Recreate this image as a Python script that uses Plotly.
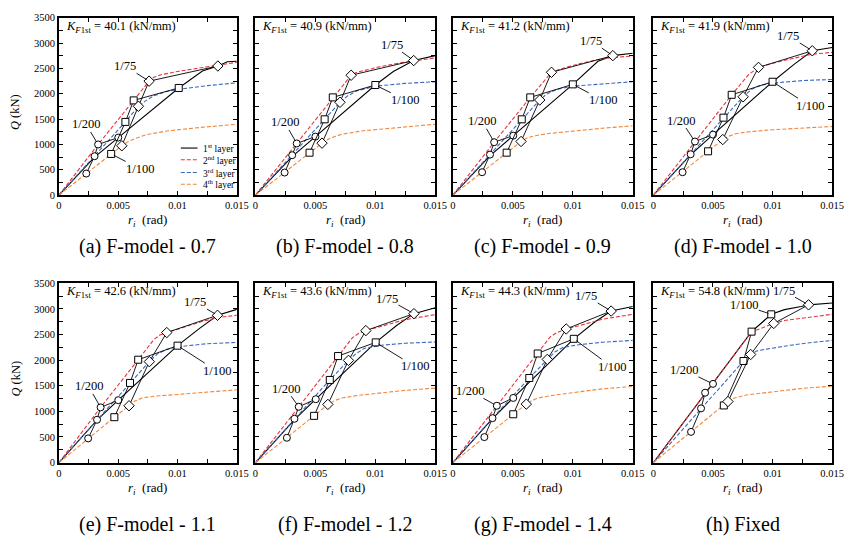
import plotly.graph_objects as go

# ---------------------------------------------------------------------------
# Story shear Q (kN) vs. inter-story drift r_i (rad), four layers per model.
# Each curve is a list of (r_i, Q) points.  Marker groups list the state of
# layers 1..4 at the instants the 1st layer reaches 1/200, 1/100 and 1/75.
# ---------------------------------------------------------------------------
CAPTIONS = ["(a) F-model - 0.7", "(b) F-model - 0.8", "(c) F-model - 0.9",
            "(d) F-model - 1.0", "(e) F-model - 1.1", "(f) F-model - 1.2",
            "(g) F-model - 1.4", "(h) Fixed"]
K_F1ST = [40.1, 40.9, 41.2, 41.9, 42.6, 43.6, 44.3, 54.8]
LAYER_NAMES = ["1<sup>st</sup> layer", "2<sup>nd</sup> layer",
               "3<sup>rd</sup> layer", "4<sup>th</sup> layer"]
X_TICKS = [0, 0.005, 0.01, 0.015]
X_TICK_TEXT = ["0", "0.005", "0.01", "0.015"]
Y_TICKS = [0, 500, 1000, 1500, 2000, 2500, 3000, 3500]

# (a) F-model - 0.7
A_L1 = [(0, 0), (0.0030, 750), (0.0050, 1135), (0.0101, 2114), (0.0121, 2450),
        (0.0134, 2547), (0.0142, 2630), (0.0150, 2640)]
A_L2 = [(0, 0), (0.0033, 999), (0.0063, 1869), (0.0076, 2249), (0.0080, 2325),
        (0.0086, 2375), (0.0100, 2440), (0.0125, 2525), (0.0150, 2620)]
A_L3 = [(0, 0), (0.0030, 767), (0.0056, 1444), (0.0067, 1753), (0.0073, 1860),
        (0.0080, 1960), (0.0090, 2040), (0.0100, 2085), (0.0125, 2160), (0.0150, 2215)]
A_L4 = [(0, 0), (0.0023, 425), (0.0044, 812), (0.0053, 973), (0.0058, 1050),
        (0.0064, 1115), (0.0074, 1195), (0.0091, 1265), (0.0119, 1334), (0.0150, 1398)]
A_CIR = [(0.0050, 1135), (0.0033, 999), (0.0030, 767), (0.0023, 425)]
A_SQR = [(0.0101, 2114), (0.0063, 1869), (0.0056, 1444), (0.0044, 812)]
A_DIA = [(0.0134, 2547), (0.0076, 2249), (0.0067, 1753), (0.0053, 973)]

# (b) F-model - 0.8
B_L1 = [(0, 0), (0.0031, 770), (0.0050, 1154), (0.0100, 2172), (0.0115, 2440),
        (0.0132, 2655), (0.0150, 2752)]
B_L2 = [(0, 0), (0.00344, 1019), (0.00645, 1928), (0.00798, 2365), (0.0084, 2420),
        (0.0092, 2470), (0.0105, 2540), (0.0125, 2625), (0.0150, 2707)]
B_L3 = [(0, 0), (0.00306, 787), (0.00577, 1495), (0.00705, 1831), (0.0077, 1960),
        (0.0085, 2060), (0.0100, 2150), (0.0125, 2205), (0.0150, 2237)]
B_L4 = [(0, 0), (0.00243, 445), (0.00451, 837), (0.00555, 1025), (0.0062, 1120),
        (0.0072, 1200), (0.0090, 1270), (0.0120, 1340), (0.0150, 1398)]
B_CIR = [(0.0050, 1154), (0.00344, 1019), (0.00306, 787), (0.00243, 445)]
B_SQR = [(0.0100, 2172), (0.00645, 1928), (0.00577, 1495), (0.00451, 837)]
B_DIA = [(0.0132, 2655), (0.00798, 2365), (0.00705, 1831), (0.00555, 1025)]

# (c) F-model - 0.9
C_L1 = [(0, 0), (0.0031, 780), (0.00503, 1173), (0.0100, 2185), (0.0121, 2640),
        (0.01334, 2752), (0.0150, 2798)]
C_L2 = [(0, 0), (0.00344, 1044), (0.00645, 1928), (0.00822, 2423), (0.0090, 2490),
        (0.0105, 2590), (0.0120, 2670), (0.0133, 2715), (0.0150, 2745)]
C_L3 = [(0, 0), (0.00309, 799), (0.00574, 1495), (0.00724, 1876), (0.0078, 1990),
        (0.0086, 2080), (0.0100, 2150), (0.0125, 2200), (0.0150, 2237)]
C_L4 = [(0, 0), (0.00243, 451), (0.00448, 837), (0.00568, 1058), (0.0062, 1130),
        (0.0068, 1170), (0.0080, 1215), (0.0100, 1265), (0.0125, 1320), (0.0150, 1367)]
C_CIR = [(0.00503, 1173), (0.00344, 1044), (0.00309, 799), (0.00243, 451)]
C_SQR = [(0.0100, 2185), (0.00645, 1928), (0.00574, 1495), (0.00448, 837)]
C_DIA = [(0.01334, 2752), (0.00822, 2423), (0.00724, 1876), (0.00568, 1058)]

# (d) F-model - 1.0
D_L1 = [(0, 0), (0.0031, 790), (0.0050, 1193), (0.0100, 2237), (0.0118, 2580),
        (0.01333, 2848), (0.0150, 2913)]
D_L2 = [(0, 0), (0.00349, 1057), (0.00657, 1979), (0.0080, 2380), (0.0085, 2475),
        (0.00882, 2520), (0.0095, 2570), (0.0110, 2660), (0.0133, 2780), (0.0150, 2817)]
D_L3 = [(0, 0), (0.00313, 806), (0.00588, 1528), (0.00753, 1940), (0.0082, 2080),
        (0.0090, 2170), (0.0100, 2210), (0.0125, 2260), (0.0150, 2282)]
D_L4 = [(0, 0), (0.00245, 451), (0.00459, 864), (0.00582, 1096), (0.0063, 1160),
        (0.0069, 1210), (0.0080, 1250), (0.0100, 1290), (0.0125, 1325), (0.0150, 1354)]
D_CIR = [(0.0050, 1193), (0.00349, 1057), (0.00313, 806), (0.00245, 451)]
D_SQR = [(0.0100, 2237), (0.00657, 1979), (0.00588, 1528), (0.00459, 864)]
D_DIA = [(0.01333, 2848), (0.00882, 2520), (0.00753, 1940), (0.00582, 1096)]

# (e) F-model - 1.1
E_L1 = [(0, 0), (0.0032, 830), (0.0050, 1218), (0.0100, 2282), (0.0118, 2610),
        (0.01337, 2875), (0.0150, 2990)]
E_L2 = [(0, 0), (0.00351, 1077), (0.00668, 2008), (0.0080, 2400), (0.0085, 2490),
        (0.00909, 2538), (0.0105, 2640), (0.0120, 2750), (0.0134, 2830), (0.0150, 2875)]
E_L3 = [(0, 0), (0.00321, 836), (0.00599, 1555), (0.00762, 1970), (0.0083, 2120),
        (0.0091, 2210), (0.0100, 2260), (0.0125, 2320), (0.0150, 2346)]
E_L4 = [(0, 0), (0.00246, 472), (0.00467, 886), (0.00591, 1109), (0.0064, 1200),
        (0.0070, 1260), (0.0080, 1295), (0.0100, 1330), (0.0125, 1380), (0.0150, 1421)]
E_CIR = [(0.0050, 1218), (0.00351, 1077), (0.00321, 836), (0.00246, 472)]
E_SQR = [(0.0100, 2282), (0.00668, 2008), (0.00599, 1555), (0.00467, 886)]
E_DIA = [(0.01337, 2875), (0.00909, 2538), (0.00762, 1970), (0.00591, 1109)]

# (f) F-model - 1.2
F_L1 = [(0, 0), (0.0033, 850), (0.00503, 1237), (0.01003, 2346), (0.0118, 2680),
        (0.01322, 2907), (0.0150, 3022)]
F_L2 = [(0, 0), (0.00361, 1090), (0.00689, 2079), (0.0081, 2440), (0.0086, 2520),
        (0.00921, 2576), (0.0105, 2660), (0.0125, 2790), (0.0150, 2888)]
F_L3 = [(0, 0), (0.00325, 855), (0.0062, 1613), (0.00776, 1995), (0.0084, 2130),
        (0.0091, 2230), (0.0105, 2290), (0.0125, 2330), (0.0150, 2353)]
F_L4 = [(0, 0), (0.00262, 484), (0.00489, 912), (0.00604, 1135), (0.0066, 1210),
        (0.0072, 1260), (0.0085, 1310), (0.0105, 1360), (0.0125, 1410), (0.0150, 1454)]
F_CIR = [(0.00503, 1237), (0.00361, 1090), (0.00325, 855), (0.00262, 484)]
F_SQR = [(0.01003, 2346), (0.00689, 2079), (0.0062, 1613), (0.00489, 912)]
F_DIA = [(0.01322, 2907), (0.00921, 2576), (0.00776, 1995), (0.00604, 1135)]

# (g) F-model - 1.4
G_L1 = [(0, 0), (0.0033, 860), (0.00503, 1262), (0.01008, 2416), (0.0118, 2740),
        (0.0132, 2958), (0.0150, 3047)]
G_L2 = [(0, 0), (0.00366, 1109), (0.00707, 2129), (0.0081, 2450), (0.0086, 2530),
        (0.00945, 2608), (0.0105, 2670), (0.0125, 2800), (0.0150, 2894)]
G_L3 = [(0, 0), (0.0033, 867), (0.00637, 1651), (0.00787, 2014), (0.0085, 2160),
        (0.0092, 2250), (0.0105, 2300), (0.0125, 2350), (0.0150, 2385)]
G_L4 = [(0, 0), (0.00262, 497), (0.00503, 943), (0.00612, 1141), (0.0066, 1215),
        (0.0072, 1265), (0.0085, 1320), (0.0105, 1380), (0.0125, 1440), (0.0150, 1486)]
G_CIR = [(0.00503, 1262), (0.00366, 1109), (0.0033, 867), (0.00262, 497)]
G_SQR = [(0.01008, 2416), (0.00707, 2129), (0.00637, 1651), (0.00503, 943)]
G_DIA = [(0.0132, 2958), (0.00945, 2608), (0.00787, 2014), (0.00612, 1141)]

# (h) Fixed base
H_L1 = [(0, 0), (0.00824, 2556), (0.00989, 2894), (0.0110, 2985), (0.0124, 3045),
        (0.01302, 3079), (0.0150, 3115)]
H_L2 = [(0, 0), (0.00824, 2556), (0.0091, 2625), (0.0101, 2716), (0.0110, 2773),
        (0.0124, 2815), (0.0150, 2894)]
H_L3 = [(0, 0), (0.0040, 1058), (0.00756, 1983), (0.00816, 2110), (0.0087, 2180),
        (0.0095, 2215), (0.0115, 2290), (0.0135, 2350), (0.0150, 2383)]
H_L4 = [(0, 0), (0.00316, 599), (0.00591, 1115), (0.00626, 1192), (0.0068, 1260),
        (0.0078, 1320), (0.0100, 1380), (0.0125, 1448), (0.0150, 1492)]
H_CIR = [(0.0050, 1536), (0.00434, 1364), (0.0040, 1058), (0.00316, 599)]
H_SQR = [(0.00989, 2894), (0.00824, 2556), (0.00756, 1983), (0.00591, 1115)]
H_DIA = [(0.01302, 3079), (0.0101, 2716), (0.00816, 2110), (0.00626, 1192)]

PANELS = [
    (A_L1, A_L2, A_L3, A_L4, A_CIR, A_SQR, A_DIA),
    (B_L1, B_L2, B_L3, B_L4, B_CIR, B_SQR, B_DIA),
    (C_L1, C_L2, C_L3, C_L4, C_CIR, C_SQR, C_DIA),
    (D_L1, D_L2, D_L3, D_L4, D_CIR, D_SQR, D_DIA),
    (E_L1, E_L2, E_L3, E_L4, E_CIR, E_SQR, E_DIA),
    (F_L1, F_L2, F_L3, F_L4, F_CIR, F_SQR, F_DIA),
    (G_L1, G_L2, G_L3, G_L4, G_CIR, G_SQR, G_DIA),
    (H_L1, H_L2, H_L3, H_L4, H_CIR, H_SQR, H_DIA),
]

# ---------------------------------------------------------------------------
# Layout / styling
# ---------------------------------------------------------------------------
W, H = 854, 545
FONT = "Liberation Serif"
COL_PX = [(57, 238), (257, 440), (458, 641), (662, 844)]
ROW_PX = [(13, 194), (284, 467)]
LAYER_STYLE = [("black", "solid", 1.1), ("#e8333a", "4px,2px", 1.1),
               ("#3a68c0", "4px,2px", 1.1), ("#f1873a", "4px,2px", 1.1)]
GROUP_SYMBOLS = ["circle", "square", "diamond"]
GROUP_SIZES = [7, 7, 8]
GROUP_LABELS = ["1/200", "1/100", "1/75"]
# which layer marker each drift label points at, and text offset in px
LABEL_POS = [
    [(1, -12, -20), (3, 29, 15), (1, -24, -15)],
    [(1, -12, -21), (0, 30, 15), (0, -22, -16)],
    [(1, -12, -21), (0, 30, 16), (0, -22, -15)],
    [(1, -14, -21), (0, 37, 24), (0, -24, -15)],
    [(1, -12, -21), (0, 39, 25), (0, -22, -13)],
    [(1, -13, -18), (0, 39, 24), (0, -27, -15)],
    [(1, -27, -15), (0, 38, 28), (0, -25, -15)],
    [(0, -29, -14), (0, -27, -9), (0, -25, -14)],
]


def px_x(p):
    return p / W


def px_y(p):
    return 1 - p / H


fig = go.Figure()
annotations = []
shapes = []
layout_axes = {}

for i, panel in enumerate(PANELS):
    row, col = divmod(i, 4)
    (x0, x1), (y0, y1) = COL_PX[col], ROW_PX[row]
    sfx = "" if i == 0 else str(i + 1)
    xa, ya = "x" + sfx, "y" + sfx

    curves, groups = panel[:4], panel[4:]
    for (pts, (color, dash, width)) in zip(curves, LAYER_STYLE):
        fig.add_trace(go.Scatter(
            x=[p[0] for p in pts], y=[p[1] for p in pts], mode="lines",
            line=dict(color=color, dash=dash, width=width),
            xaxis=xa, yaxis=ya, showlegend=False, hoverinfo="skip"))

    for pts, sym, size in zip(groups, GROUP_SYMBOLS, GROUP_SIZES):
        fig.add_trace(go.Scatter(
            x=[p[0] for p in pts], y=[p[1] for p in pts], mode="lines+markers",
            line=dict(color="black", width=0.9),
            marker=dict(symbol=sym, size=size, color="white",
                        line=dict(color="black", width=1)),
            xaxis=xa, yaxis=ya, showlegend=False, hoverinfo="skip"))

    for g, (idx, ax, ay) in enumerate(LABEL_POS[i]):
        tx, ty = groups[g][idx]
        annotations.append(dict(
            x=tx, y=ty, xref=xa, yref=ya, text=GROUP_LABELS[g],
            showarrow=True, arrowhead=0, arrowwidth=0.9, arrowcolor="black",
            ax=ax, ay=ay, standoff=3, borderpad=0,
            font=dict(family=FONT, size=12.5, color="black")))

    annotations.append(dict(
        x=px_x(x0 + 5), y=px_y(y0 + 9), xref="paper", yref="paper",
        xanchor="left", yanchor="middle", showarrow=False,
        text=f"<i>K</i><sub><i>F</i>1st</sub> = {K_F1ST[i]} (kN/mm)",
        font=dict(family=FONT, size=12.5, color="black")))

    # axis title and caption under each panel
    xc = (x0 + x1) / 2
    annotations.append(dict(
        x=px_x(xc), y=px_y(y1 + 26), xref="paper", yref="paper",
        xanchor="center", yanchor="middle", showarrow=False,
        text="<i>r</i><sub><i>i</i></sub>  (rad)",
        font=dict(family=FONT, size=13, color="black")))
    annotations.append(dict(
        x=px_x(xc), y=px_y(y1 + 52 if row == 0 else y1 + 63), xref="paper",
        yref="paper", xanchor="center", yanchor="middle", showarrow=False,
        text=CAPTIONS[i], font=dict(family=FONT, size=20, color="black")))

    if col == 0:
        annotations.append(dict(
            x=px_x(13), y=px_y((y0 + y1) / 2 + 6), xref="paper", yref="paper",
            xanchor="center", yanchor="middle", showarrow=False, textangle=-90,
            text="<i>Q</i> (kN)", font=dict(family=FONT, size=12.5, color="black")))

    axis_common = dict(
        ticks="inside", ticklen=4, tickwidth=1, tickcolor="black",
        showline=True, linecolor="black", linewidth=1.6, mirror="ticks",
        showgrid=False, zeroline=False,
        tickfont=dict(family=FONT, size=10.5, color="black"))
    layout_axes["xaxis" + sfx] = dict(
        domain=[px_x(x0), px_x(x1)], anchor=ya, range=[0, 0.015],
        tickmode="array", tickvals=X_TICKS, ticktext=X_TICK_TEXT,
        minor=dict(tickmode="array", tickvals=[0.0025, 0.0075, 0.0125],
                   ticks="inside", ticklen=4, tickcolor="black", showgrid=False),
        **axis_common)
    layout_axes["yaxis" + sfx] = dict(
        domain=[px_y(y1), px_y(y0)], anchor=xa, range=[0, 3500],
        tickmode="array", tickvals=Y_TICKS, showticklabels=(col == 0),
        minor=dict(tickmode="array", tickvals=[250 + 500 * k for k in range(7)],
                   ticks="inside", ticklen=4, tickcolor="black", showgrid=False),
        **axis_common)

# legend drawn inside panel (a)
LEG_ROWS = [146, 158, 171, 183]
for k, (yy, (color, dash, width)) in enumerate(zip(LEG_ROWS, LAYER_STYLE)):
    shapes.append(dict(
        type="line", xref="paper", yref="paper",
        x0=px_x(181), x1=px_x(198), y0=px_y(yy), y1=px_y(yy),
        line=dict(color=color, dash=dash, width=width)))
    annotations.append(dict(
        x=px_x(202), y=px_y(yy), xref="paper", yref="paper",
        xanchor="left", yanchor="middle", showarrow=False,
        text=LAYER_NAMES[k], font=dict(family=FONT, size=9.5, color="black")))

fig.update_layout(
    width=W, height=H, margin=dict(l=0, r=0, t=0, b=0),
    paper_bgcolor="white", plot_bgcolor="white",
    showlegend=False, annotations=annotations, shapes=shapes,
    font=dict(family=FONT, color="black"),
    **layout_axes)

fig.write_html("out.html")
